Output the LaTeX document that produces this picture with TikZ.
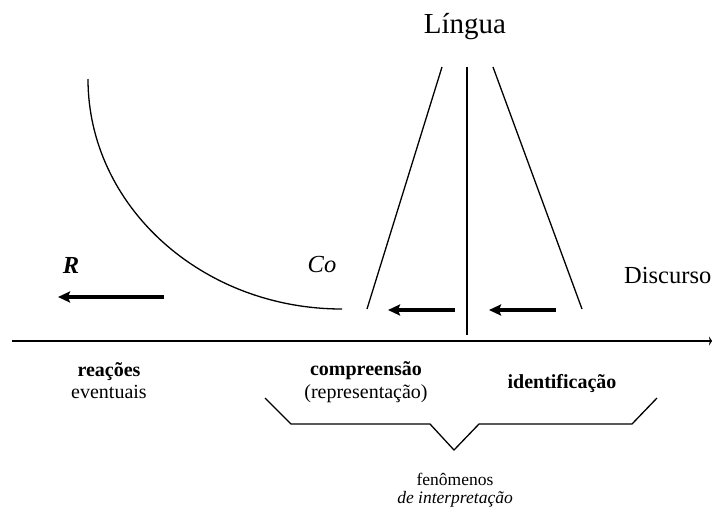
\documentclass[tikz,border=0pt]{standalone}
\usepackage{fontspec}
\setmainfont{Liberation Serif}
\usetikzlibrary{arrows.meta}
\begin{document}
\begin{tikzpicture}[x=1pt,y=-1pt,
  thin line/.style={line width=1.3pt},
  fat arrow/.style={line width=4pt,-{Stealth[length=12pt,width=11pt,inset=2pt]}},
  lbl/.style={anchor=base,inner sep=0pt,font=\fontsize{20}{22}\selectfont},
  small/.style={anchor=base,inner sep=0pt,font=\fontsize{17.5}{19}\selectfont},
  big/.style={anchor=base,inner sep=0pt,font=\fontsize{24.5}{26}\selectfont}]
\useasboundingbox (0,0) rectangle (712,512);
% axis
\coordinate (axL) at (12,341);
\coordinate (axR) at (712,341);
\draw[line width=1.8pt,-{Stealth[length=3pt,width=9pt]}] (axL) -- (axR);
% central lines
\coordinate (vT) at (467,67);
\coordinate (vB) at (467,335);
\draw[thin line] (vT) -- (vB);
\coordinate (lT) at (442,67);
\coordinate (lB) at (367,309);
\draw[thin line] (lT) -- (lB);
\coordinate (rT) at (493,67);
\coordinate (rB) at (582,309);
\draw[thin line] (rT) -- (rB);
% curve
\coordinate (cS) at (88,79);
\draw[thin line] (cS) arc[start angle=180,end angle=270,x radius=254,y radius=-230];
% arrows
\coordinate (a1s) at (164,297); \coordinate (a1e) at (58,297);
\draw[fat arrow] (a1s) -- (a1e);
\coordinate (a2s) at (455,310); \coordinate (a2e) at (388,310);
\draw[fat arrow] (a2s) -- (a2e);
\coordinate (a3s) at (556,310); \coordinate (a3e) at (489,310);
\draw[fat arrow] (a3s) -- (a3e);
% texts
\node[anchor=base,inner sep=0pt,font=\fontsize{29}{31}\selectfont] (lingua) at (465,33) {Língua};
\node[big] (co) at (322,272) {\textit{Co}};
\node[big] (r) at (71,273) {\textbf{\textit{R}}};
\node[big,anchor=base west] (disc) at (624,283) {Discurso};
\node[lbl] (reac) at (109,376) {\textbf{reações}};
\node[lbl] (even) at (109,398) {eventuais};
\node[lbl] (comp) at (366,375) {\textbf{compreensão}};
\node[lbl] (repr) at (366,398) {(representação)};
\node[lbl] (iden) at (562,388) {\textbf{identificação}};
\node[small] (fen) at (455,485) {fenômenos};
\node[small] (interp) at (455,503) {\textit{de interpretação}};
% bracket
\coordinate (b1) at (265,398);
\coordinate (b2) at (291,424);
\coordinate (b3) at (430,424);
\coordinate (b4) at (454,450);
\coordinate (b5) at (479,424);
\coordinate (b6) at (632,424);
\coordinate (b7) at (657,398);
\draw[thin line] (b1) -- (b2) -- (b3) -- (b4) -- (b5) -- (b6) -- (b7);
\end{tikzpicture}
\end{document}
